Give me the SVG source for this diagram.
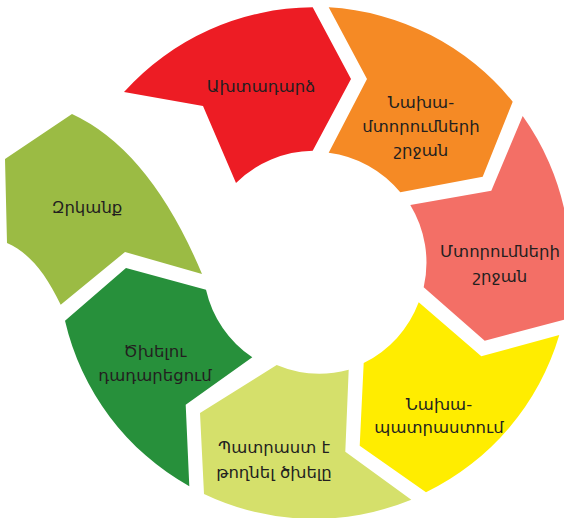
<svg xmlns="http://www.w3.org/2000/svg" width="564" height="518" viewBox="0 0 564 518">
<style>
text{font-family:"DejaVu Sans","Noto Sans",sans-serif;font-size:16.5px;fill:#231f20;text-anchor:middle}
</style>
<rect width="564" height="518" fill="#ffffff"/>
<g id="relapse">
<path d="M124,92 A256,256 0 0 1 312.7,7.3 L351,79 L312.7,150.7 A111,111 0 0 0 236,183 L203,106 Z" fill="#ed1c24"/>
<text x="261" y="92">Ախտադարձ</text>
</g>
<g id="precontemplation">
<path d="M328.7,7.3 A256,256 0 0 1 512.7,101.7 L482.7,176.7 L400.3,192.3 A111,111 0 0 0 328.7,152.7 L367,79 Z" fill="#f58a25"/>
<text x="421" y="108">Նախա-</text>
<text x="421" y="132">մտորումների</text>
<text x="421" y="156">շրջան</text>
</g>
<g id="contemplation">
<path d="M522.7,116 A256,256 0 0 1 564.4,319.6 L484.7,340.7 L423.7,287.3 A111,111 0 0 0 410.3,205 L491.3,190.7 Z" fill="#f36f66"/>
<text x="500" y="257">Մտորումների</text>
<text x="500" y="282">շրջան</text>
</g>
<g id="preparation">
<path d="M559.3,335 A256,256 0 0 1 426,492.3 L359.7,445.7 L363.7,363 A111,111 0 0 0 418.7,302.3 L481.3,356.3 Z" fill="#ffed00"/>
<text x="439" y="410">Նախա-</text>
<text x="439" y="433">պատրաստում</text>
</g>
<g id="ready">
<path d="M411.3,499.7 A256,256 0 0 1 204,494 L200,413 L276.7,365 A111,111 0 0 0 348.7,369.7 L345.3,451.7 Z" fill="#d5e06b"/>
<text x="274" y="453">Պատրաստ է</text>
<text x="274" y="478">թողնել ծխելը</text>
</g>
<g id="quit">
<path d="M189.3,486.3 A256,256 0 0 1 65,320.7 L126,268 L206,289.7 A111,111 0 0 0 252.3,357.3 L185.7,404.7 Z" fill="#27903b"/>
<text x="155" y="357">Ծխելու</text>
<text x="155" y="381">դադարեցում</text>
</g>
<g id="deprivation">
<path d="M5,159 L72,114 Q150,150 202,274 L125,252 L60.7,304.7 C45,272 28,252 7,243 Z" fill="#9bbb44"/>
<text x="87" y="213">Զրկանք</text>
</g>
<g id="connectors"></g>
</svg>
